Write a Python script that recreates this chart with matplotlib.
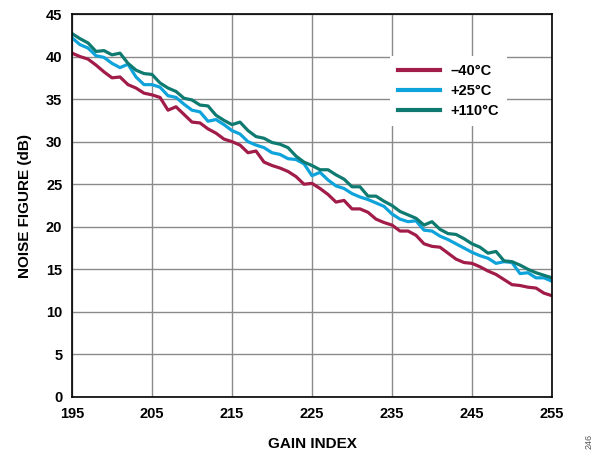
import matplotlib
matplotlib.use("Agg")
import matplotlib.pyplot as plt
import numpy as np

plt.rcParams['font.family'] = ['Liberation Sans', 'DejaVu Sans']

gain_index = list(range(195, 256))

nf_m40 = [40.4, 40.0, 39.7, 39.0, 38.2, 37.5, 37.6, 36.7, 36.3, 35.7,
          35.5, 35.2, 33.7, 34.1, 33.2, 32.3, 32.2, 31.5, 31.0, 30.3,
          30.0, 29.6, 28.7, 28.9, 27.6, 27.2, 26.9, 26.5, 25.9, 25.0,
          25.1, 24.5, 23.8, 22.9, 23.1, 22.1, 22.1, 21.7, 20.9, 20.5,
          20.2, 19.5, 19.5, 19.0, 18.0, 17.7, 17.6, 16.9, 16.2, 15.8,
          15.7, 15.3, 14.8, 14.4, 13.8, 13.2, 13.1, 12.9, 12.8, 12.2,
          11.9]

nf_25 = [42.2, 41.4, 41.0, 40.1, 39.9, 39.2, 38.7, 39.1, 37.6, 36.7,
         36.7, 36.4, 35.4, 35.2, 34.4, 33.7, 33.5, 32.4, 32.6, 32.0,
         31.3, 30.9, 30.0, 29.6, 29.3, 28.7, 28.5, 28.0, 27.9, 27.4,
         26.0, 26.4, 25.5, 24.8, 24.5, 23.9, 23.5, 23.2, 22.8, 22.4,
         21.5, 20.9, 20.6, 20.7, 19.6, 19.5, 18.9, 18.5, 18.0, 17.5,
         17.0, 16.6, 16.3, 15.7, 15.9, 15.8, 14.5, 14.6, 14.0, 14.0,
         13.6]

nf_110 = [42.7, 42.1, 41.6, 40.6, 40.7, 40.2, 40.4, 39.2, 38.4, 38.0,
          37.9, 36.9, 36.3, 35.9, 35.1, 34.9, 34.3, 34.2, 33.1, 32.5,
          32.0, 32.3, 31.3, 30.6, 30.4, 29.9, 29.7, 29.3, 28.3, 27.6,
          27.2, 26.7, 26.7, 26.1, 25.6, 24.7, 24.7, 23.6, 23.6, 23.0,
          22.5, 21.8, 21.4, 21.0, 20.2, 20.6, 19.7, 19.2, 19.1, 18.6,
          18.0, 17.6, 16.9, 17.1, 16.0, 15.9, 15.5, 15.0, 14.6, 14.3,
          14.0]

labels = ['\u201340\u00b0C', '+25\u00b0C', '+110\u00b0C']
colors = ['#A11C48', '#0FA3DB', '#0E7A70']
x_ticks = [195, 205, 215, 225, 235, 245, 255]
y_ticks = [0, 5, 10, 15, 20, 25, 30, 35, 40, 45]

W, H = 602, 453
fig = plt.figure(figsize=(W/100, H/100), dpi=100)
ax = fig.add_axes([72/W, 1-397/H, 480/W, 383/H])

for ys, lab, c in zip([nf_m40, nf_25, nf_110], labels, colors):
    ax.plot(gain_index, ys, color=c, lw=2.3, label=lab)

ax.set_xlim(195, 255)
ax.set_ylim(0, 45)
ax.set_xticks(x_ticks)
ax.set_yticks(y_ticks)
ax.grid(True, color='#8a8a8a', lw=1.0)
ax.set_axisbelow(True)
for s in ax.spines.values():
    s.set_color('black')
    s.set_linewidth(1.2)
ax.tick_params(length=0, pad=7, labelsize=10.5)
for t in ax.get_xticklabels() + ax.get_yticklabels():
    t.set_fontweight('bold')

ax.set_xlabel('GAIN INDEX', fontsize=11, fontweight='bold', labelpad=12)
ax.set_ylabel('NOISE FIGURE (dB)', fontsize=11, fontweight='bold', labelpad=10)

leg = ax.legend(loc='upper left', frameon=True, fancybox=False, fontsize=10.5,
                handlelength=2.9, handletextpad=0.7, labelspacing=0.42,
                borderpad=0.55, borderaxespad=0)
leg.get_frame().set_facecolor('white')
leg.get_frame().set_edgecolor('none')
leg.get_frame().set_alpha(1)
for t in leg.get_texts():
    t.set_fontweight('bold')
for h in leg.get_lines():
    h.set_linewidth(3.0)
leg.set_bbox_to_anchor((390/W, 1-56/H), transform=fig.transFigure)

fig.text(589/W, 1-441/H, '246', rotation=90, fontsize=6.5, color='#555555',
         ha='center', va='center')

fig.savefig('out.png', dpi=100)
